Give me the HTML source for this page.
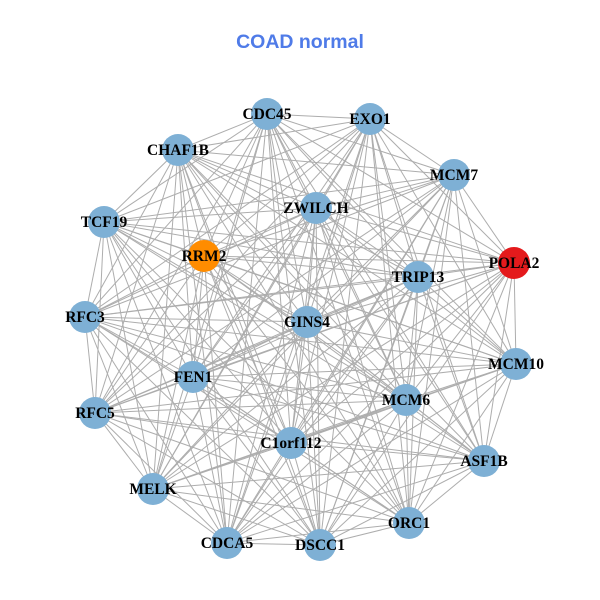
<!DOCTYPE html>
<html><head><meta charset="utf-8"><style>
html,body{margin:0;padding:0;background:#fff;width:600px;height:600px;overflow:hidden}
</style></head><body>
<svg id="s" width="600" height="600" xmlns="http://www.w3.org/2000/svg">
<rect width="600" height="600" fill="#fff"/>
<text x="300" y="48" text-anchor="middle" font-family="Liberation Sans, sans-serif" font-weight="bold" font-size="19.5" fill="#4f7be8">COAD normal</text>
<g id="e" stroke="#adadad" stroke-width="1"></g>
<g id="n"></g>
</svg>
<script>
var N=[["CDC45",267,114],["EXO1",370,119],["CHAF1B",178,150],["MCM7",454,175],["ZWILCH",316,208],["TCF19",104,222],["RRM2",204,256,"#ff8c00"],["POLA2",514,263,"#e41a1c"],["TRIP13",418,277],["RFC3",85,317],["GINS4",307,322],["MCM10",516,364],["FEN1",193,377],["MCM6",406,400],["RFC5",95,413],["C1orf112",291,443],["ASF1B",484,461],["MELK",153,489],["ORC1",409,523],["CDCA5",227,543],["DSCC1",320,545]];
var ns="http://www.w3.org/2000/svg",e=document.getElementById("e"),g=document.getElementById("n");
for(var i=0;i<N.length;i++)for(var j=i+1;j<N.length;j++){
 var l=document.createElementNS(ns,"line");
 l.setAttribute("x1",N[i][1]);l.setAttribute("y1",N[i][2]);l.setAttribute("x2",N[j][1]);l.setAttribute("y2",N[j][2]);e.appendChild(l);}
N.forEach(function(d){
 var c=document.createElementNS(ns,"circle");c.setAttribute("cx",d[1]);c.setAttribute("cy",d[2]);c.setAttribute("r",16);c.setAttribute("fill",d[3]||"#7eb0d5");g.appendChild(c);
 var t=document.createElementNS(ns,"text");t.setAttribute("x",d[1]);t.setAttribute("y",d[2]+5);t.setAttribute("text-anchor","middle");
 t.setAttribute("font-family","Liberation Serif, serif");t.setAttribute("font-weight","bold");t.setAttribute("font-size","15.5");t.textContent=d[0];g.appendChild(t);});
</script>
</body></html>
